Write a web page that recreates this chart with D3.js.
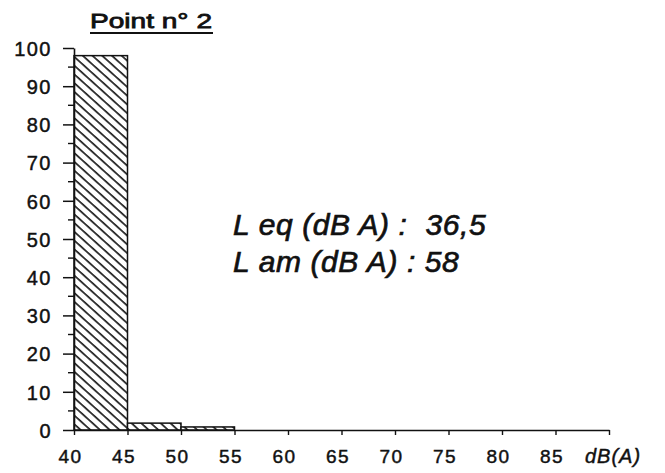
<!DOCTYPE html>
<html>
<head>
<meta charset="utf-8">
<script src="https://cdn.jsdelivr.net/npm/d3@7"></script>
<style>
  body{margin:0;background:#fff;}
  svg text{font-family:"Liberation Sans",Arial,Helvetica,sans-serif;fill:#111;stroke:#111;stroke-width:0.45px;}
</style>
</head>
<body>
<svg id="chart" width="665" height="473"></svg>
<script>
/* ----- data -------------------------------------------------- */
const binStarts = [40,45,50,55,60,65,70,75,80,85];
const binWidth  = 5;
const percents  = [98,1.8,0.8,0,0,0,0,0,0,0];
const xTicks    = [40,45,50,55,60,65,70,75,80,85,90];
const xLabels   = ['40','45','50','55','60','65','70','75','80','85'];
const yTicks    = [0,10,20,30,40,50,60,70,80,90,100];
const yMinor    = [5,15,25,35,45,55,65,75,85,95];
const titleText = 'Point n° 2';
const notes     = ['L eq (dB A) :  36,5','L am (dB A) : 58'];
const unitLabel = 'dB(A)';

/* ----- setup ------------------------------------------------- */
const svg = d3.select('#chart');
const x = d3.scaleLinear().domain([40,90]).range([74,609]);
const y = d3.scaleLinear().domain([0,100]).range([430,48]);

/* hatch pattern */
const pat = svg.append('defs').append('pattern')
  .attr('id','hatch').attr('patternUnits','userSpaceOnUse')
  .attr('width',6.5).attr('height',6.5)
  .attr('patternTransform','rotate(-48)');
pat.append('rect').attr('width',6.5).attr('height',6.5).attr('fill','#fff');
pat.append('line').attr('x1',1).attr('y1',0).attr('x2',1).attr('y2',6.5)
  .attr('stroke','#111').attr('stroke-width',1.6);

/* ----- bars -------------------------------------------------- */
svg.append('g').selectAll('rect')
  .data(binStarts.map((b,i)=>({b,v:percents[i]})).filter(d=>d.v>0))
  .join('rect')
    .attr('x',d=>x(d.b))
    .attr('y',d=>y(d.v))
    .attr('width',d=>x(d.b+binWidth)-x(d.b))
    .attr('height',d=>y(0)-y(d.v))
    .attr('fill','url(#hatch)')
    .attr('stroke','#111').attr('stroke-width',1.5);

/* ----- axes -------------------------------------------------- */
const yAxis = svg.append('g').attr('transform',`translate(${x(40)},0)`)
  .call(d3.axisLeft(y).tickValues(yTicks).tickSize(11).tickSizeOuter(0).tickPadding(11));
yAxis.select('.domain').attr('stroke','#111').attr('stroke-width',1.6);
yAxis.selectAll('.tick line').attr('stroke','#111').attr('stroke-width',1.5);
yAxis.selectAll('.tick text')
  .style('font-size','20px').style('letter-spacing','1.5px')
  .attr('fill','#111').attr('dy','0.36em');

svg.append('g').selectAll('line').data(yMinor).join('line')
  .attr('x1',x(40)-6).attr('x2',x(40))
  .attr('y1',d=>y(d)).attr('y2',d=>y(d))
  .attr('stroke','#111').attr('stroke-width',1.4);

const xAxis = svg.append('g').attr('transform',`translate(0,${y(0)})`)
  .call(d3.axisBottom(x).tickValues(xTicks).tickSize(5).tickSizeOuter(0)
    .tickFormat(d=>{const i=xTicks.indexOf(d);return xLabels[i]||'';}));
xAxis.select('.domain').attr('stroke','#111').attr('stroke-width',1.6);
xAxis.selectAll('.tick line').attr('stroke','#111').attr('stroke-width',1.4);
xAxis.selectAll('.tick text')
  .style('font-size','19px').style('letter-spacing','1.5px')
  .attr('fill','#111').attr('y',null).attr('dy',null)
  .attr('transform','translate(-4,33)');

svg.append('text')
  .attr('x',585).attr('y',463)
  .style('font-size','20px').style('font-style','italic').style('letter-spacing','1px')
  .text(unitLabel);

/* ----- title ------------------------------------------------- */
svg.append('text')
  .attr('x',90).attr('y',28)
  .attr('textLength',122).attr('lengthAdjust','spacingAndGlyphs')
  .style('font-size','21px').style('stroke-width','0.8px')
  .text(titleText);
svg.append('line')
  .attr('x1',90).attr('x2',213).attr('y1',33).attr('y2',33)
  .attr('stroke','#111').attr('stroke-width',2);

/* ----- notes ------------------------------------------------- */
svg.append('g').selectAll('text').data(notes).join('text')
  .attr('x',233).attr('y',(d,i)=>235+i*37)
  .attr('xml:space','preserve')
  .style('white-space','pre')
  .style('font-size','30px').style('font-style','italic').style('letter-spacing','0.6px')
  .style('stroke-width','0.7px')
  .text(d=>d);
</script>
</body>
</html>
